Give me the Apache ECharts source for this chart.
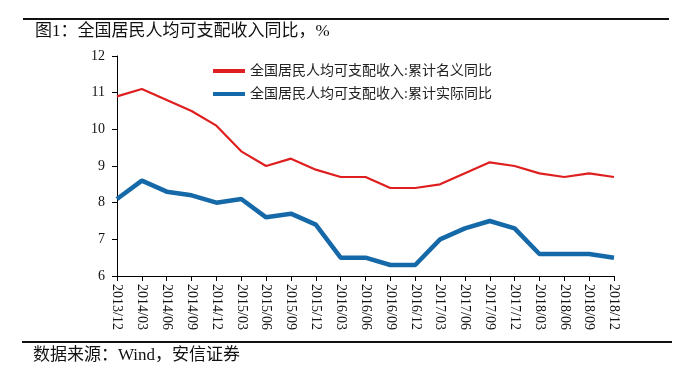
<!DOCTYPE html>
<html><head><meta charset="utf-8">
<script src="https://cdn.jsdelivr.net/npm/echarts@6/dist/echarts.min.js"></script>
<style>html,body{margin:0;padding:0;background:#fff}#c{width:690px;height:379px}</style>
</head><body><div id="c"></div>
<script>
var categories = ['2013/12','2014/03','2014/06','2014/09','2014/12','2015/03','2015/06','2015/09','2015/12','2016/03','2016/06','2016/09','2016/12','2017/03','2017/06','2017/09','2017/12','2018/03','2018/06','2018/09','2018/12'];
var nominal = [10.9,11.1,10.8,10.5,10.1,9.4,9.0,9.2,8.9,8.7,8.7,8.4,8.4,8.5,8.8,9.1,9.0,8.8,8.7,8.8,8.7];
var real = [8.1,8.6,8.3,8.2,8.0,8.1,7.6,7.7,7.4,6.5,6.5,6.3,6.3,7.0,7.3,7.5,7.3,6.6,6.6,6.6,6.5];
var seriesNames = ['全国居民人均可支配收入:累计名义同比','全国居民人均可支配收入:累计实际同比'];
var titleText = '图1：全国居民人均可支配收入同比，%';
var sourceText = '数据来源：Wind，安信证券';
var serif = '"Liberation Serif","Noto Sans CJK SC",serif';
var chart = echarts.init(document.getElementById('c'), null, {renderer:'canvas'});
chart.setOption({
  animation:false,
  backgroundColor:'#fff',
  grid:{left:117,right:76,top:56,bottom:103,containLabel:false},
  legend:{
    orient:'vertical', left:208, top:59, itemWidth:32, itemHeight:4, itemGap:9,
    icon:'rect',
    textStyle:{fontFamily:serif,fontSize:14,color:'#222'},
    data:seriesNames
  },
  xAxis:{
    type:'category', data:categories, boundaryGap:false,
    axisLine:{lineStyle:{color:'#000',width:1}},
    axisTick:{show:true,interval:0,length:5,inside:false,lineStyle:{color:'#000'}},
    axisLabel:{interval:0,rotate:-90,fontFamily:serif,fontSize:14,color:'#111',margin:8}
  },
  yAxis:{
    type:'value', min:6, max:12, interval:1,
    axisLine:{show:true,lineStyle:{color:'#000',width:1}},
    axisTick:{show:true,length:5,lineStyle:{color:'#000'}},
    splitLine:{show:false},
    axisLabel:{fontFamily:serif,fontSize:14,color:'#111',margin:12}
  },
  series:[
    {name:seriesNames[0],type:'line',data:nominal,symbol:'none',lineStyle:{color:'#DF1F1F',width:2.2},itemStyle:{color:'#DF1F1F'}},
    {name:seriesNames[1],type:'line',data:real,symbol:'none',lineStyle:{color:'#1669A8',width:4.5},itemStyle:{color:'#1669A8'}}
  ],
  graphic:[
    {type:'line',shape:{x1:23,y1:19,x2:669,y2:19},style:{stroke:'#111',lineWidth:2}},
    {type:'text',left:35,top:23,style:{text:titleText,font:'17px '+serif,fill:'#111'}},
    {type:'line',shape:{x1:22,y1:342,x2:672,y2:342},style:{stroke:'#111',lineWidth:2}},
    {type:'text',left:33,top:347,style:{text:sourceText,font:'17px '+serif,fill:'#111'}}
  ]
});
</script></body></html>
